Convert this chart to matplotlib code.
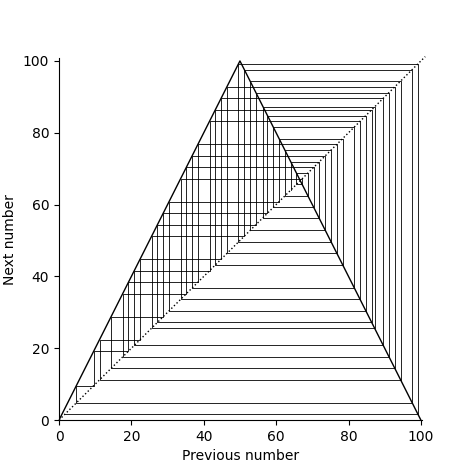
import matplotlib

matplotlib.use("Agg")
import matplotlib.pyplot as plt

orbit = [
    64.1, 71.8, 56.4, 87.2, 25.6, 51.2, 97.6, 4.8, 9.6, 19.2,
    38.4, 76.8, 46.4, 92.8, 14.4, 28.8, 57.6, 84.8, 30.4, 60.8,
    78.4, 43.2, 86.4, 27.2, 54.4, 91.2, 17.6, 35.2, 70.4, 59.2,
    81.6, 36.8, 73.6, 52.8, 94.4, 11.2, 22.4, 44.8, 89.6, 20.8,
    41.6, 83.2, 33.6, 67.2, 65.6, 68.8, 62.4, 75.2, 49.6, 99.2,
    1.6,
]
# the map: corners of the tent
tent_x = [0, 50, 100]
tent_y = [0, 100, 0]

fig = plt.figure(figsize=(4.72, 4.72), dpi=100)
ax = fig.add_axes([0.125, 0.110, 0.769, 0.767])

# cobweb path: (x0,x0) -> (x0,x1) -> (x1,x1) -> ...
px, py = [orbit[0]], [orbit[0]]
for a, b in zip(orbit[:-1], orbit[1:]):
    px += [a, b]
    py += [b, b]
ax.plot(px, py, color="black", linewidth=0.6)

ax.plot(tent_x, tent_y, color="black", linewidth=1.0)
ax.plot([0, 101.2], [0, 101.2], color="black", linestyle=":", linewidth=1.0, clip_on=False)

ax.set_xlim(0, 100.3)
ax.set_ylim(0, 100.8)
ax.spines["top"].set_visible(False)
ax.spines["right"].set_visible(False)
ax.set_xlabel("Previous number")
ax.set_ylabel("Next number")

fig.savefig("out.png", dpi=100)
